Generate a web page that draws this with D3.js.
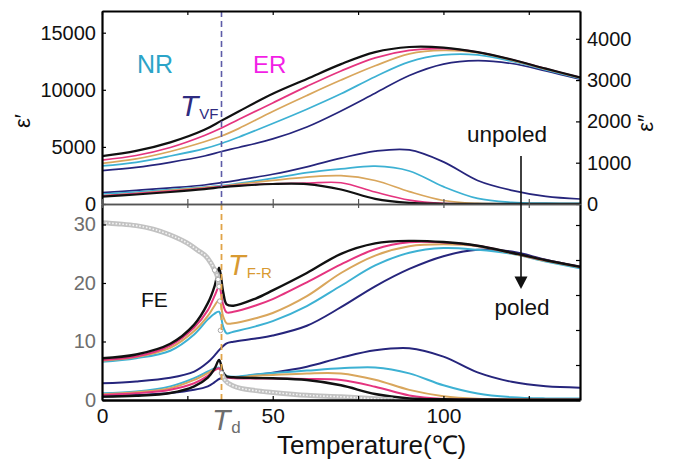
<!DOCTYPE html>
<html>
<head>
<meta charset="utf-8">
<script src="https://cdn.jsdelivr.net/npm/d3@7/dist/d3.min.js"></script>
<style>
  body { margin: 0; background: #fff; }
  svg { display: block; font-family: "Liberation Sans", Arial, sans-serif; }
</style>
</head>
<body>
<svg id="chart" width="673" height="463"></svg>
<script>
// temperatures (°C) for the unpoled (top) panel
var tempsTop = [0, 10, 20, 30, 35, 40, 50, 60, 70, 80, 90, 100, 110, 120, 130, 140];

// unpoled eps' (left axis)
var epsRealTop = {
  navy:   [2920, 3200, 3650, 4200, 4600, 4950, 5700, 6750, 8150, 9700, 11250, 12250, 12550, 12300, 11650, 10920],
  cyan:   [3330, 3650, 4200, 4850, 5300, 5850, 7050, 8300, 9650, 11150, 12450, 13050, 13050, 12500, 11750, 11000],
  orange: [3560, 3950, 4600, 5450, 5950, 6600, 8100, 9500, 10850, 12100, 13150, 13450, 13250, 12600, 11800, 11050],
  pink:   [3850, 4250, 4950, 6000, 6650, 7400, 8850, 10300, 11650, 12800, 13450, 13600, 13300, 12650, 11850, 11080],
  black:  [4200, 4650, 5400, 6500, 7300, 8100, 9650, 10950, 12250, 13300, 13750, 13700, 13300, 12650, 11850, 11090]
};

// unpoled eps'' (right axis)
var epsImagTop = {
  navy:   [274, 330, 390, 460, 516, 580, 720, 900, 1110, 1280, 1310, 1020, 570, 330, 185, 121],
  cyan:   [242, 290, 350, 410, 445, 500, 620, 760, 850, 915, 800, 420, 135, 40, 20, 15],
  orange: [200, 260, 330, 400, 430, 480, 570, 650, 685, 570, 300, 85, 15, 5, 3, 3],
  pink:   [200, 250, 310, 380, 420, 450, 490, 505, 515, 290, 95, 15, 5, 3, 3, 3],
  black:  [177, 230, 290, 360, 405, 440, 484, 480, 350, 125, 25, 5, 3, 3, 3, 3]
};

// temperatures for the poled (bottom) panel
var tempsBot = [0, 10, 20, 27, 31, 33, 34.3, 35.5, 36.5, 38.5, 45, 50, 60, 70, 80, 90, 100, 110, 120, 130, 140];

var epsRealBot = {
  navy:   [1440, 1600, 1920, 2450, 3250, 3850, 4300, 4650, 4890, 5030, 5300, 5560, 6400, 8000, 9800, 11300, 12400, 12950, 12800, 12100, 11490],
  cyan:   [3300, 3600, 4250, 5650, 6950, 7450, 7610, 6300, 5750, 5890, 6350, 6800, 8100, 9850, 11600, 12700, 13100, 12950, 12600, 11950, 11350],
  orange: [3390, 3700, 4500, 5950, 7250, 8150, 8620, 7200, 6610, 6610, 7050, 7500, 8950, 10950, 12450, 13250, 13420, 13250, 12650, 12000, 11450],
  pink:   [3450, 3750, 4700, 6250, 7750, 9000, 9770, 8200, 7560, 7600, 8150, 8700, 10150, 11700, 13000, 13600, 13580, 13300, 12700, 12050, 11480],
  black:  [3595, 3920, 4850, 6500, 8350, 9850, 11400, 9300, 8250, 8130, 8750, 9450, 10950, 12600, 13500, 13720, 13620, 13300, 12700, 12050, 11490]
};

var epsImagBot = {
  navy:   [95, 140, 200, 290, 390, 510, 600, 635, 640, 645, 720, 780, 950, 1210, 1420, 1480, 1240, 790, 520, 390, 352],
  cyan:   [190, 240, 390, 625, 815, 900, 924, 770, 690, 667, 730, 770, 840, 905, 930, 760, 420, 185, 80, 45, 40],
  orange: [162, 220, 340, 575, 770, 875, 890, 725, 670, 640, 690, 715, 760, 760, 580, 290, 110, 35, 20, 15, 15],
  pink:   [143, 190, 295, 480, 690, 850, 905, 710, 650, 620, 615, 615, 600, 570, 380, 130, 30, 15, 10, 10, 10],
  black:  [95, 120, 200, 390, 640, 900, 1143, 780, 670, 650, 630, 620, 570, 420, 170, 45, 20, 15, 10, 10, 10]
};

// polarization (grey markers)
var tempsP = [0, 5, 10, 15, 20, 25, 28, 31, 33, 34, 34.3, 34.5, 34.7, 35, 36, 38.5, 45, 50, 60, 70, 80, 85];
var polar  = [30.3, 30.1, 29.8, 29.2, 28.2, 26.8, 25.6, 24.2, 22.2, 20.6, 19.4, 16.9, 11.9, 4.6, 3.4, 2.4, 1.6, 1.3, 0.8, 0.55, 0.2, 0.05];

var seriesOrder = ['navy', 'cyan', 'orange', 'pink', 'black'];
var colors = {navy: '#26257c', cyan: '#3db1d3', orange: '#d9a65c', pink: '#e5347f', black: '#111111'};

var tVF = 35;
var topLeftTicks = [0, 5000, 10000, 15000];
var topRightTicks = [0, 1000, 2000, 3000, 4000];
var botLeftTicks = [0, 10, 20, 30];
var botRightTicks = [0, 1000, 2000, 3000, 4000, 5000];
var xTicks = [0, 25, 50, 75, 100, 125];
var xLabels = [0, 50, 100];

var svg = d3.select('#chart');
var L = 102, R = 580, T0 = 11, MID = 204, B = 400;

var x = d3.scaleLinear().domain([0, 140]).range([L, R]);
var yTopL = d3.scaleLinear().domain([0, 16900]).range([MID, T0]);
var yTopR = d3.scaleLinear().domain([0, 4673]).range([MID, T0]);
var yBotP = d3.scaleLinear().domain([0, 33.5]).range([B, MID]);
var yBotL = d3.scaleLinear().domain([0, 16900]).range([B, MID]);
var yBotR = d3.scaleLinear().domain([0, 5600]).range([B, MID]);

var defs = svg.append('defs');
defs.append('clipPath').attr('id', 'clipTop').append('rect')
    .attr('x', L).attr('y', T0).attr('width', R - L).attr('height', MID - T0);
defs.append('clipPath').attr('id', 'clipBot').append('rect')
    .attr('x', L).attr('y', MID).attr('width', R - L).attr('height', B - MID);

function drawSet(g, temps, set, yScale, widthBlack, width) {
    seriesOrder.forEach(function (k) {
        var pts = temps.map(function (t, i) { return [t, set[k][i]]; });
        var line = d3.line()
            .x(function (d) { return x(d[0]); })
            .y(function (d) { return yScale(d[1]); })
            .curve(d3.curveCatmullRom.alpha(0.5));
        g.append('path')
            .attr('d', line(pts))
            .attr('fill', 'none')
            .attr('stroke', colors[k])
            .attr('stroke-width', k === 'black' ? widthBlack : width)
            .attr('stroke-linejoin', 'round');
    });
}

var gTop = svg.append('g').attr('clip-path', 'url(#clipTop)');
drawSet(gTop, tempsTop, epsImagTop, yTopR, 2.2, 1.7);
drawSet(gTop, tempsTop, epsRealTop, yTopL, 2.2, 1.7);

var gBot = svg.append('g').attr('clip-path', 'url(#clipBot)');
drawSet(gBot, tempsBot, epsImagBot, yBotR, 2.4, 2);
drawSet(gBot, tempsBot, epsRealBot, yBotL, 2.4, 2);

// polarization, drawn as a chain of open grey markers
var pPts = tempsP.map(function (t, i) { return [t, polar[i]]; });
var upper = pPts.filter(function (d) { return d[0] <= 34.3; });
var lower = pPts.filter(function (d) { return d[0] >= 35; });
var pLine = d3.line()
    .x(function (d) { return x(d[0]); })
    .y(function (d) { return yBotP(d[1]); })
    .curve(d3.curveMonotoneX);
[upper, lower].forEach(function (seg) {
    gBot.append('path').attr('d', pLine(seg)).attr('fill', 'none')
        .attr('stroke', '#c2c2c2').attr('stroke-width', 5).attr('stroke-linecap', 'round');
    gBot.append('path').attr('d', pLine(seg)).attr('fill', 'none')
        .attr('stroke', '#f4f4f4').attr('stroke-width', 1.6).attr('stroke-dasharray', '1.6 1.8');
});
gBot.selectAll('.pdot')
    .data(pPts.filter(function (d) { return d[0] >= 33 && d[0] <= 35; }))
  .enter().append('circle')
    .attr('class', 'pdot')
    .attr('cx', function (d) { return x(d[0]); })
    .attr('cy', function (d) { return yBotP(d[1]); })
    .attr('r', 2.3)
    .attr('fill', '#fff')
    .attr('stroke', '#aaa')
    .attr('stroke-width', 1);

// dashed transition lines
svg.append('line')
    .attr('x1', x(tVF)).attr('x2', x(tVF)).attr('y1', T0).attr('y2', MID)
    .attr('stroke', '#5d5ca8').attr('stroke-width', 1.6).attr('stroke-dasharray', '6 4');
svg.append('line')
    .attr('x1', x(tVF)).attr('x2', x(tVF)).attr('y1', MID).attr('y2', B)
    .attr('stroke', '#e0a448').attr('stroke-width', 1.8).attr('stroke-dasharray', '6 4');

// axes
function styleAxis(g, stroke, sw, textColor) {
    g.select('.domain').attr('stroke', stroke).attr('stroke-width', sw);
    g.selectAll('.tick line').attr('stroke', stroke).attr('stroke-width', 1.2);
    g.selectAll('text').attr('font-size', 20).attr('fill', textColor)
        .attr('font-family', '"Liberation Sans", Arial, sans-serif');
}

var ax;
ax = svg.append('g').attr('transform', 'translate(' + L + ',0)')
    .call(d3.axisLeft(yTopL).tickValues(topLeftTicks).tickSizeInner(-4).tickSizeOuter(0).tickPadding(6).tickFormat(d3.format('d')));
styleAxis(ax, '#000', 2.2, '#111');

ax = svg.append('g').attr('transform', 'translate(' + R + ',0)')
    .call(d3.axisRight(yTopR).tickValues(topRightTicks).tickSizeInner(-4).tickSizeOuter(0).tickPadding(7).tickFormat(d3.format('d')));
styleAxis(ax, '#000', 2.2, '#111');

ax = svg.append('g').attr('transform', 'translate(' + L + ',0)')
    .call(d3.axisLeft(yBotP).tickValues(botLeftTicks).tickSizeInner(-4).tickSizeOuter(0).tickPadding(6));
styleAxis(ax, '#000', 2.2, '#6e6e6e');

ax = svg.append('g').attr('transform', 'translate(' + R + ',0)')
    .call(d3.axisRight(yBotR).tickValues(botRightTicks).tickSizeInner(-4).tickSizeOuter(0).tickFormat(''));
styleAxis(ax, '#000', 2.2, '#111');

ax = svg.append('g').attr('transform', 'translate(0,' + B + ')')
    .call(d3.axisBottom(x).tickValues(xTicks).tickSizeInner(-4).tickSizeOuter(0).tickPadding(8)
        .tickFormat(function (d) { return xLabels.indexOf(d) >= 0 ? d : ''; }));
styleAxis(ax, '#000', 2.4, '#111');
ax.selectAll('text').attr('font-size', 21);

ax = svg.append('g').attr('transform', 'translate(0,' + T0 + ')')
    .call(d3.axisTop(x).tickValues(xTicks).tickSizeInner(-4).tickSizeOuter(0).tickFormat(''));
styleAxis(ax, '#000', 2.2, '#111');

ax = svg.append('g').attr('transform', 'translate(0,' + MID + ')')
    .call(d3.axisTop(x).tickValues(xTicks).tickSizeInner(5).tickSizeOuter(0).tickFormat(''));
styleAxis(ax, '#555', 1.5, '#111');
ax = svg.append('g').attr('transform', 'translate(0,' + MID + ')')
    .call(d3.axisBottom(x).tickValues(xTicks).tickSizeInner(4).tickSizeOuter(0).tickFormat(''));
styleAxis(ax, '#555', 1.5, '#111');

// axis titles
svg.append('text').attr('transform', 'translate(30,121) rotate(-90)')
    .attr('text-anchor', 'middle').attr('font-size', 22).attr('fill', '#111').text('ε′');
svg.append('text').attr('transform', 'translate(653,123) rotate(-90)')
    .attr('text-anchor', 'middle').attr('font-size', 22).attr('fill', '#111').text('ε″');
svg.append('text').attr('x', 277).attr('y', 454)
    .attr('font-size', 26).attr('fill', '#111').text('Temperature(℃)');

// annotations
svg.append('text').attr('x', 137).attr('y', 73).attr('font-size', 25).attr('fill', '#2ba4c8').text('NR');
svg.append('text').attr('x', 253).attr('y', 73).attr('font-size', 24).attr('fill', '#f21fe6').text('ER');
svg.append('text').attr('x', 141).attr('y', 307).attr('font-size', 21).attr('fill', '#111').text('FE');

function subLabel(xp, yp, main, sub, color, size, subSize) {
    var t = svg.append('text').attr('x', xp).attr('y', yp).attr('fill', color);
    t.append('tspan').attr('font-style', 'italic').attr('font-size', size).text(main);
    t.append('tspan').attr('font-size', subSize).attr('dx', 1).attr('dy', 3).text(sub);
}
subLabel(180, 116, 'T', 'VF', '#2e2b80', 30, 15);
subLabel(228, 275, 'T', 'F-R', '#d89a32', 29, 15);
subLabel(212, 430, 'T', 'd', '#6d6d6d', 30, 17);

svg.append('text').attr('x', 507).attr('y', 142).attr('text-anchor', 'middle')
    .attr('font-size', 22.5).attr('fill', '#111').text('unpoled');
svg.append('text').attr('x', 522).attr('y', 315).attr('text-anchor', 'middle')
    .attr('font-size', 22.5).attr('fill', '#111').text('poled');

// arrow unpoled -> poled
svg.append('line').attr('x1', 521).attr('x2', 521).attr('y1', 156).attr('y2', 280)
    .attr('stroke', '#111').attr('stroke-width', 1.6);
svg.append('path').attr('d', 'M514.5,276.5 L527.5,276.5 L521,289 Z').attr('fill', '#111');
</script>
</body>
</html>
